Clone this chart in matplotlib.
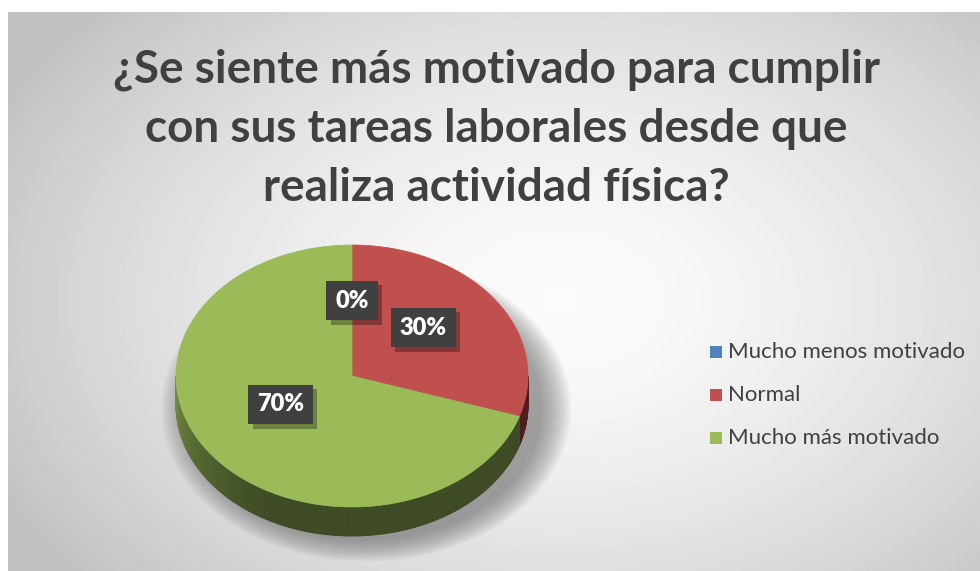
import numpy as np
import matplotlib

matplotlib.use("Agg")
import matplotlib.pyplot as plt
import matplotlib.patheffects as pe
from matplotlib.patches import Polygon, Rectangle, Ellipse

# -- data ---------------------------------------------------------------
title = "¿Se siente más motivado para cumplir\ncon sus tareas laborales desde que\nrealiza actividad física?"
categories = ["Mucho menos motivado", "Normal", "Mucho más motivado"]
values = [0, 30, 70]
colors = ["#4f81bd", "#c0504d", "#9bbb59"]

FONT = "Lato"
W, H = 980, 571
fig = plt.figure(figsize=(W / 100, H / 100), dpi=100)
ax = fig.add_axes([0, 0, 1, 1])
ax.set_xlim(0, W)
ax.set_ylim(H, 0)
ax.axis("off")

# -- background: radial grey gradient inside chart area -----------------
x0, y0 = 8, 12
gx, gy = np.meshgrid(np.arange(x0, W), np.arange(y0, H))
d = np.sqrt(((gx - 560) / 620.0) ** 2 + ((gy - 300) / 420.0) ** 2)
shade = np.clip(0.985 - 0.22 * d ** 1.6, 0.76, 1.0)
ax.imshow(shade, cmap="gray", vmin=0, vmax=1, extent=(x0, W, H, y0),
          interpolation="bilinear", zorder=0)

# -- pie geometry -------------------------------------------------------
cx, cy, rx, ry, depth = 352, 376, 176, 131, 29


def pt(theta, dy=0.0, s=1.0):
    return cx + s * rx * np.sin(theta), cy - s * ry * np.cos(theta) + dy


# soft shadow
for k in range(16):
    grow = 1 + 0.011 * k
    ax.add_patch(Ellipse((cx + 14, cy + depth + 4), 2 * rx * grow, 2 * ry * grow,
                         facecolor="#666666", edgecolor="none", alpha=0.05,
                         zorder=1))

total = float(sum(values))
bounds = np.concatenate([[0], np.cumsum(values)]) / total * 2 * np.pi


def darken(c, f):
    rgb = np.array(matplotlib.colors.to_rgb(c))
    return tuple(rgb * f)


# side walls (front half only)
for i, c in enumerate(colors):
    a0, a1 = bounds[i], bounds[i + 1]
    lo, hi = max(a0, np.pi / 2), min(a1, 3 * np.pi / 2)
    if hi <= lo:
        continue
    steps = np.linspace(lo, hi, max(3, int((hi - lo) / 0.01)))
    for t0, t1 in zip(steps[:-1], steps[1:]):
        tm = 0.5 * (t0 + t1)
        # lighter towards the left edge, dark in front/right
        f = 0.40 + 0.34 * np.clip((tm - 3.6) / (3 * np.pi / 2 - 3.6), 0, 1) ** 1.3
        xa, ya = pt(t0)
        xb, yb = pt(t1)
        ax.add_patch(Polygon([(xa, ya), (xb, yb), (xb, yb + depth), (xa, ya + depth)],
                             closed=True, facecolor=darken(c, f),
                             edgecolor=darken(c, f), lw=0.6, zorder=2))

# top surface
for i, c in enumerate(colors):
    a0, a1 = bounds[i], bounds[i + 1]
    if a1 <= a0:
        continue
    th = np.linspace(a0, a1, 200)
    xs, ys = pt(th)
    poly = np.column_stack([np.r_[cx, xs], np.r_[cy, ys]])
    ax.add_patch(Polygon(poly, closed=True, facecolor=c, edgecolor=c, lw=0.5,
                         zorder=3))

# data labels (dark boxes with drop shadow)
for i, v in enumerate(values):
    mid = 0.5 * (bounds[i] + bounds[i + 1])
    lx, ly = pt(mid, dy=-10, s=0.5)
    t = ax.text(lx, ly, f"{v / total:.0%}", ha="center", va="center",
                fontsize=17, fontweight="heavy", color="white", family=FONT,
                bbox=dict(boxstyle="square,pad=0.38", fc="#404040", ec="none"),
                zorder=5)
    t.get_bbox_patch().set_path_effects(
        [pe.SimplePatchShadow(offset=(3, -3), shadow_rgbFace="black", alpha=0.3),
         pe.Normal()])

# title
ax.text(496, 129, title, ha="center", va="center", fontsize=33,
        fontweight="bold", color="#404040", family=FONT,
        linespacing=1.5, zorder=6)

# legend
for i, (lab, c) in enumerate(zip(categories, colors)):
    yy = 352 + 43 * i
    ax.add_patch(Rectangle((710, yy - 6), 12, 12, facecolor=c, edgecolor="none",
                           zorder=6))
    ax.text(728, yy, lab, ha="left", va="center", fontsize=16,
            color="#404040", family=FONT, zorder=6)

fig.savefig("out.png", dpi=100)
